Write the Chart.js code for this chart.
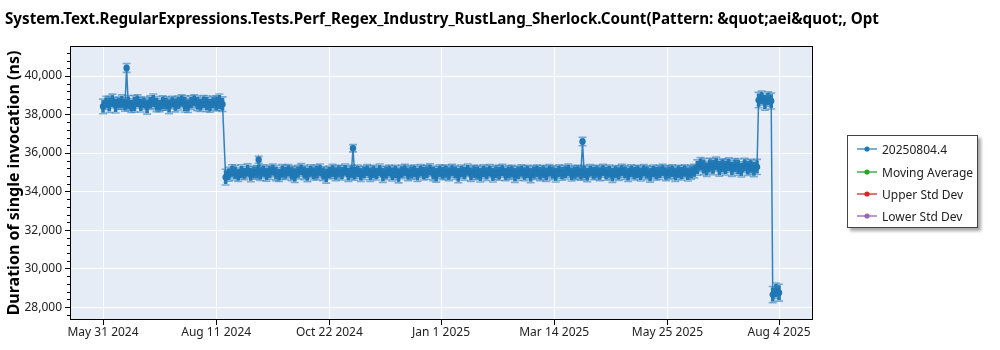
<!DOCTYPE html>
<html>
<head>
<meta charset="utf-8">
<script src="https://cdn.jsdelivr.net/npm/chart.js@4.4.1/dist/chart.umd.min.js"></script>
<style>
  html, body { margin: 0; padding: 0; background: #fff; }
  #wrap { position: relative; width: 1000px; height: 350px; overflow: hidden; }
  #title { position: absolute; left: 5px; top: 9px; font: bold 15.2px "Noto Sans", sans-serif; line-height: 18px; white-space: nowrap; color: #000; }
  #legend { position: absolute; left: 847px; top: 135px; width: 131px; height: 93px; box-sizing: border-box;
            border: 1px solid #444; background: #fff; box-shadow: 3px 3px 3px rgba(0,0,0,0.35); }
  .item { position: absolute; left: 9px; height: 16px; display: flex; align-items: center;
          font: 12px "Noto Sans", sans-serif; color: #222; white-space: nowrap; }
  .item svg { margin-right: 5px; }
</style>
</head>
<body>
<div id="wrap">
  <canvas id="c" width="1000" height="350"></canvas>
  <div id="title"></div>
  <div id="legend"></div>
</div>
<script>
// ---------------- data ----------------
const chartTitle = "System.Text.RegularExpressions.Tests.Perf_Regex_Industry_RustLang_Sherlock.Count(Pattern: &quot;aei&quot;, Opt";
const yAxisTitle = "Duration of single invocation (ns)";
const seriesNames = ["20250804.4", "Moving Average", "Upper Std Dev", "Lower Std Dev"];
const seriesColors = ["#1f77b4", "#2ca02c", "#d62728", "#9467bd"];

// x tick positions: days after May 31 2024
const xTickDays = [0, 72, 144, 215, 287, 359, 430];
const xTickLabels = ["May 31 2024", "Aug 11 2024", "Oct 22 2024", "Jan 1 2025", "Mar 14 2025", "May 25 2025", "Aug 4 2025"];
const yMajorTicks = [28000, 30000, 32000, 34000, 36000, 38000, 40000];
const yMinorStep = 400;

// run day (days after May 31 2024)
const runDays = [
  0,2,4,6,8,10,12,14,15,16,
  18,20,22,24,26,28,30,32,34,36,
  38,40,42,44,46,48,50,52,54,56,
  58,60,62,64,66,68,70,72,74,76,
  78,80,82,84,86,88,90,92,94,96,
  98,99,100,102,104,106,108,110,112,114,
  116,118,120,122,124,126,128,130,132,134,
  136,138,140,142,144,146,148,150,152,154,
  156,158,159,160,162,164,166,168,170,172,
  174,176,178,180,182,184,186,188,190,192,
  194,196,198,200,202,204,206,208,210,212,
  214,216,218,220,222,224,226,228,230,232,
  234,236,238,240,242,244,246,248,250,252,
  254,256,258,260,262,264,266,268,270,272,
  274,276,278,280,282,284,286,288,290,292,
  294,296,298,300,302,304,305,306,308,310,
  312,314,316,318,320,322,324,326,328,330,
  332,334,336,338,340,342,344,346,348,350,
  352,354,356,358,360,362,364,366,368,370,
  372,374,376,378,380,382,384,386,388,390,
  392,394,396,398,400,402,404,406,408,410,
  412,414,416,417,419,421,423,425,426,428,
  430
];
// mean duration (ns)
const durations = [
  38420,38610,38530,38700,38480,38590,38650,38520,40420,38600,
  38470,38560,38680,38510,38590,38430,38620,38700,38540,38480,
  38600,38570,38450,38630,38520,38600,38690,38550,38480,38620,
  38700,38580,38520,38640,38560,38490,38610,38580,38650,38540,
  34750,34900,35050,34980,34870,35020,34950,35080,34900,34990,
  35000,35650,34950,35050,34920,35000,35100,34960,34880,35030,
  34990,35060,34940,34870,35010,35120,34980,34900,35050,34960,
  35000,35080,34930,34850,34990,35060,34940,35020,34970,35100,
  34910,35000,36250,34960,35040,34900,34980,35070,34920,35010,
  34950,35090,34880,34970,35050,34930,35000,34860,35020,35080,
  34940,34990,35030,34910,35060,34970,35000,35110,34950,34890,
  35040,34980,35020,34940,35070,34990,34870,35030,34960,35100,
  34920,35010,34980,34900,35040,34950,35060,34890,35000,34970,
  35080,34930,34990,35020,34880,34960,35050,34940,35010,34870,
  34990,35030,34950,35000,34920,35060,34980,34900,35040,34960,
  35010,35090,34930,34980,35020,34950,36600,35000,34900,35060,
  34970,35010,34940,35080,34960,35020,34880,35000,34950,35070,
  34990,34910,35040,34970,35010,34930,35060,34980,34890,35030,
  34960,35000,35080,34940,34990,35040,34920,35010,34970,35050,
  34930,35000,35060,35250,35400,35300,35180,35350,35280,35420,
  35220,35320,35260,35380,35200,35330,35270,35150,35360,35240,
  35300,35180,35280,38750,38850,38650,38800,38700,28650,28850,
  28750
];
// standard deviation (ns), drawn as error bars
const stdDevs = [
  380,340,420,360,400,320,370,350,230,390,
  360,430,340,380,320,410,350,370,390,330,
  370,350,400,320,380,360,340,420,370,350,
  330,380,360,350,400,370,340,390,420,380,
  410,360,340,380,350,370,330,360,390,340,
  350,180,370,340,380,360,330,390,350,370,
  360,340,380,400,350,330,370,390,340,360,
  380,350,370,410,340,360,380,350,370,330,
  390,360,190,370,340,380,350,330,390,360,
  350,340,400,360,330,380,370,410,350,340,
  370,360,350,390,340,370,360,330,380,400,
  350,370,360,380,340,360,410,350,370,330,
  390,360,370,400,350,370,340,390,360,380,
  340,370,360,350,400,370,340,380,360,410,
  360,350,380,370,390,340,360,400,350,370,
  360,340,380,370,350,360,220,370,390,340,
  360,350,380,340,370,360,400,350,370,340,
  360,390,350,370,360,380,340,360,400,350,
  370,360,340,380,360,350,390,360,370,340,
  380,360,350,400,370,420,390,380,410,370,
  420,380,400,370,410,380,420,390,370,400,
  380,410,390,400,370,420,380,410,420,400,
  440
];

// ---------------- page text ----------------
document.getElementById('title').textContent = chartTitle;

const FONT = '"Noto Sans", sans-serif';

// y ticks: majors + minors
const yTickValues = [];
for (let v = 27600; v <= 41200; v += yMinorStep) yTickValues.push(v);
const isMajor = v => yMajorTicks.includes(v);

const bgPlugin = {
  id: 'bg',
  beforeDraw(chart) {
    const { ctx, chartArea: a } = chart;
    ctx.save();
    ctx.fillStyle = '#e5ecf6';
    ctx.fillRect(a.left, a.top, a.width, a.height);
    ctx.restore();
  }
};

const errorBarPlugin = {
  id: 'errbars',
  beforeDatasetsDraw(chart) {
    const { ctx, chartArea: a } = chart;
    const ys = chart.scales.y;
    const meta = chart.getDatasetMeta(0);
    ctx.save();
    ctx.beginPath();
    ctx.rect(a.left, a.top, a.width, a.height);
    ctx.clip();
    // caps first (lighter), then stems
    ctx.strokeStyle = 'rgba(31,119,180,0.55)';
    ctx.lineWidth = 1.6;
    meta.data.forEach((pt, i) => {
      const s = stdDevs[i] || 0;
      const x = pt.x;
      const yHi = ys.getPixelForValue(durations[i] + s);
      const yLo = ys.getPixelForValue(durations[i] - s);
      ctx.beginPath();
      ctx.moveTo(x - 4, yHi); ctx.lineTo(x + 4, yHi);
      ctx.moveTo(x - 4, yLo); ctx.lineTo(x + 4, yLo);
      ctx.stroke();
    });
    ctx.strokeStyle = 'rgba(31,119,180,0.97)';
    ctx.lineWidth = 3.6;
    meta.data.forEach((pt, i) => {
      const s = stdDevs[i] || 0;
      const x = pt.x;
      const yHi = ys.getPixelForValue(durations[i] + s);
      const yLo = ys.getPixelForValue(durations[i] - s);
      ctx.beginPath();
      ctx.moveTo(x, yHi + 1); ctx.lineTo(x, yLo - 1);
      ctx.stroke();
    });
    ctx.restore();
  }
};

const framePlugin = {
  id: 'frame',
  afterDraw(chart) {
    const { ctx, chartArea: a } = chart;
    const ys = chart.scales.y;
    ctx.save();
    ctx.strokeStyle = '#000';
    ctx.lineWidth = 1;
    ctx.strokeRect(Math.round(a.left) + 0.5, Math.round(a.top) + 0.5, Math.round(a.width) - 1, Math.round(a.height) - 1);
    // minor ticks
    ctx.beginPath();
    yTickValues.forEach(v => {
      if (isMajor(v)) return;
      const y = Math.round(ys.getPixelForValue(v)) + 0.5;
      ctx.moveTo(a.left - 3, y); ctx.lineTo(a.left, y);
    });
    ctx.stroke();
    ctx.restore();
  }
};

const chart = new Chart(document.getElementById('c'), {
  type: 'line',
  data: {
    datasets: [
      {
        label: seriesNames[0],
        data: runDays.map((d, i) => ({ x: d, y: durations[i] })),
        borderColor: 'rgba(31,119,180,0.9)',
        backgroundColor: seriesColors[0],
        borderWidth: 1.5,
        pointRadius: 3.2,
        pointBorderWidth: 0,
        pointBackgroundColor: seriesColors[0],
        tension: 0
      },
      { label: seriesNames[1], data: [], borderColor: seriesColors[1], backgroundColor: seriesColors[1] },
      { label: seriesNames[2], data: [], borderColor: seriesColors[2], backgroundColor: seriesColors[2] },
      { label: seriesNames[3], data: [], borderColor: seriesColors[3], backgroundColor: seriesColors[3] }
    ]
  },
  options: {
    responsive: false,
    animation: false,
    layout: { padding: { left: 5, right: 187, top: 46, bottom: 0 } },
    plugins: { legend: { display: false }, title: { display: false }, tooltip: { enabled: false } },
    scales: {
      x: {
        type: 'linear',
        min: -21,
        max: 451.6,
        afterBuildTicks(scale) { scale.ticks = xTickDays.map(v => ({ value: v })); },
        afterFit(scale) { scale.height = 30; },
        ticks: {
          autoSkip: false, maxRotation: 0, padding: 0,
          color: '#222', font: { family: FONT, size: 12 },
          callback(v, i) { return xTickLabels[i]; }
        },
        grid: { color: '#ffffff', lineWidth: 1, tickColor: '#000', tickLength: 5 },
        border: { display: false }
      },
      y: {
        type: 'linear',
        min: 27330,
        max: 41560,
        afterBuildTicks(scale) { scale.ticks = yTickValues.map(v => ({ value: v })); },
        afterFit(scale) { scale.width = 65; },
        ticks: {
          autoSkip: false, padding: 3,
          color: '#222', font: { family: FONT, size: 12 },
          callback(v) { return isMajor(v) ? v.toLocaleString('en-US') : ''; }
        },
        grid: {
          color(ctx) { return ctx.tick && isMajor(ctx.tick.value) ? '#ffffff' : 'rgba(0,0,0,0)'; },
          tickColor(ctx) { return ctx.tick && isMajor(ctx.tick.value) ? '#000' : 'rgba(0,0,0,0)'; },
          lineWidth: 1,
          tickLength: 5
        },
        border: { display: false },
        title: {
          display: true, text: yAxisTitle, color: '#000',
          font: { family: FONT, size: 16, weight: 'bold' },
          padding: { top: 0, bottom: 0 }
        }
      }
    }
  },
  plugins: [bgPlugin, errorBarPlugin, framePlugin]
});

// HTML legend built from the datasets
const legend = document.getElementById('legend');
const rowTops = [5, 28, 50, 72];
chart.data.datasets.forEach((ds, i) => {
  const row = document.createElement('div');
  row.className = 'item';
  row.style.top = rowTops[i] + 'px';
  row.innerHTML = '<svg width="20" height="8"><line x1="0" y1="4" x2="20" y2="4" stroke="' + ds.borderColor +
    '" stroke-width="1.3"/><circle cx="10" cy="4" r="2.6" fill="' + ds.backgroundColor + '"/></svg>';
  const t = document.createElement('span');
  t.textContent = ds.label;
  row.appendChild(t);
  legend.appendChild(row);
});
</script>
</body>
</html>
